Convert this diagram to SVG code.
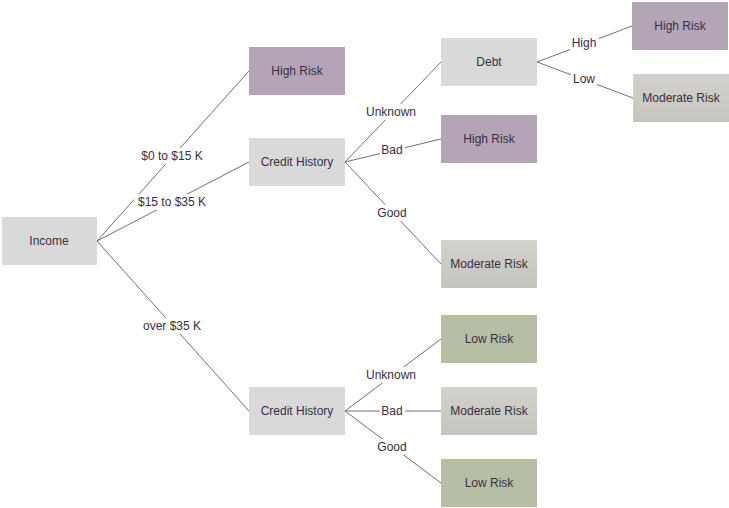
<svg xmlns="http://www.w3.org/2000/svg" width="729" height="508" viewBox="0 0 729 508">
<style>
text{font-family:"Liberation Sans",Arial,sans-serif;font-size:12px;fill:#3a2e44;text-anchor:middle;dominant-baseline:central}
.g{fill:#d9d9d9}.p{fill:#b3a5b6}.m{fill:url(#mg)}.l{fill:#b6bfa3}
.c line{stroke:#707070;stroke-width:1}
.lb{fill:#fff}
</style>
<defs><linearGradient id="mg" x1="0" y1="0" x2="0" y2="1"><stop offset="0" stop-color="#d2d1cc"/><stop offset="1" stop-color="#c5c4be"/></linearGradient></defs>
<g class="c">
<line x1="97" y1="241" x2="249" y2="71"/>
<line x1="97" y1="241" x2="249" y2="162"/>
<line x1="97" y1="241" x2="249" y2="411"/>
<line x1="345" y1="162" x2="441" y2="62"/>
<line x1="345" y1="162" x2="441" y2="139"/>
<line x1="345" y1="162" x2="441" y2="264"/>
<line x1="537" y1="62" x2="632" y2="26"/>
<line x1="537" y1="62" x2="633" y2="98"/>
<line x1="345" y1="411" x2="441" y2="339"/>
<line x1="345" y1="411" x2="441" y2="411"/>
<line x1="345" y1="411" x2="441" y2="483"/>
<rect class="lb" x="137" y="148" width="70" height="16"/><text x="172" y="156">$0 to $15 K</text>
<rect class="lb" x="134" y="194" width="77" height="16"/><text x="172" y="202">$15 to $35 K</text>
<rect class="lb" x="140" y="318" width="65" height="16"/><text x="172" y="326">over $35 K</text>
<rect class="lb" x="364" y="104" width="55" height="16"/><text x="391" y="112">Unknown</text>
<rect class="lb" x="380" y="142" width="25" height="16"/><text x="392" y="150">Bad</text>
<rect class="lb" x="376" y="205" width="33" height="16"/><text x="392" y="213">Good</text>
<rect class="lb" x="570" y="35" width="29" height="16"/><text x="584" y="43">High</text>
<rect class="lb" x="571" y="71" width="26" height="16"/><text x="584" y="79">Low</text>
<rect class="lb" x="364" y="367" width="55" height="16"/><text x="391" y="375">Unknown</text>
<rect class="lb" x="380" y="403" width="25" height="16"/><text x="392" y="411">Bad</text>
<rect class="lb" x="376" y="439" width="33" height="16"/><text x="392" y="447">Good</text>
</g>
<g id="income"><rect class="g" x="2" y="217" width="95" height="48"/><text x="49" y="241">Income</text></g>
<g id="hr1"><rect class="p" x="249" y="47" width="96" height="48"/><text x="297" y="71">High Risk</text></g>
<g id="ch1"><rect class="g" x="249" y="138" width="96" height="48"/><text x="297" y="162">Credit History</text></g>
<g id="ch2"><rect class="g" x="249" y="387" width="96" height="48"/><text x="297" y="411">Credit History</text></g>
<g id="debt"><rect class="g" x="441" y="38" width="96" height="48"/><text x="489" y="62">Debt</text></g>
<g id="hr2"><rect class="p" x="441" y="115" width="96" height="48"/><text x="489" y="139">High Risk</text></g>
<g id="mr1"><rect class="m" x="441" y="240" width="96" height="48"/><text x="489" y="264">Moderate Risk</text></g>
<g id="lr1"><rect class="l" x="441" y="315" width="96" height="48"/><text x="489" y="339">Low Risk</text></g>
<g id="mr2"><rect class="m" x="441" y="387" width="96" height="48"/><text x="489" y="411">Moderate Risk</text></g>
<g id="lr2"><rect class="l" x="441" y="459" width="96" height="48"/><text x="489" y="483">Low Risk</text></g>
<g id="hr3"><rect class="p" x="632" y="2" width="96" height="48"/><text x="680" y="26">High Risk</text></g>
<g id="mr3"><rect class="m" x="633" y="74" width="96" height="48"/><text x="681" y="98">Moderate Risk</text></g>
</svg>
